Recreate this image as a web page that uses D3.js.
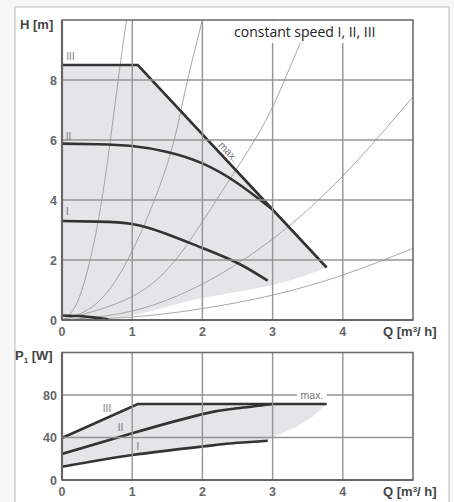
<!DOCTYPE html>
<html>

<head>
    <meta charset="UTF-8">
    <style>
        body {
            margin: 0;
            background: #f7f7f7;
        }

        svg {
            display: block;
        }

        .tick_label {
            font-family: "Liberation Sans", Arial, sans-serif;
            font-weight: bold;
            font-size: 12.5px;
            fill: #666;
        }

        .axis_title {
            font-family: "Liberation Sans", Arial, sans-serif;
            font-weight: bold;
            font-size: 13px;
            fill: #444;
        }

        .speed_label {
            font-family: "Liberation Sans", Arial, sans-serif;
            font-size: 10px;
            fill: #777;
        }
    </style>
</head>

<body>
    <svg></svg>

    <script src="https://d3js.org/d3.v7.min.js"></script>

    <script>
        let width = 454, height = 502;

        // ticks
        let qTicks = [0, 1, 2, 3, 4];
        let hTicks = [0, 2, 4, 6, 8];
        let pTicks = [0, 40, 80];

        // H-Q curves, speed I, II, III
        let h3Q = [0, 1.08, 3.77];
        let h3H = [8.5, 8.5, 1.75];
        let h2Q = [0, 0.5, 1, 1.5, 2, 2.5, 3.0];
        let h2H = [5.88, 5.86, 5.8, 5.6, 5.22, 4.56, 3.68];
        let h1Q = [0, 0.5, 1, 1.5, 2, 2.5, 2.93];
        let h1H = [3.3, 3.28, 3.2, 2.86, 2.4, 1.9, 1.31];
        let hMinQ = [0, 0.3, 0.66];
        let hMinH = [0.15, 0.12, 0.02];

        // lower edge of the shaded working field
        let fieldQ = [0.66, 1.25, 2, 3, 3.77];
        let fieldH = [0, 0.28, 0.73, 1.17, 1.75];

        // system curves (thin)
        let sys1Q = [0, 0.2, 0.4, 0.6, 0.8, 0.92];
        let sys1H = [0, 0.5, 2.0, 4.5, 8.0, 10];
        let sys2Q = [0, 0.5, 1, 1.5, 1.75, 2.0];
        let sys2H = [0, 0.57, 2.3, 5.2, 7.6, 10];
        let sys3Q = [0, 1, 1.65, 2.2, 2.82, 3.17, 3.5];
        let sys3H = [0, 0.78, 2.1, 4, 6.3, 8, 9.8];
        let sys4Q = [0, 1, 2, 3, 4, 5];
        let sys4H = [0, 0.3, 1.2, 2.7, 4.8, 7.44];
        let sys5Q = [0, 1, 2, 3, 4, 5];
        let sys5H = [0, 0.1, 0.38, 0.83, 1.5, 2.39];

        // P1-Q curves
        let p3Q = [0, 1.08, 3.77];
        let p3P = [39.5, 71.5, 71.5];
        let p2Q = [0, 1, 2, 2.5, 3];
        let p2P = [24.5, 44, 62, 67.5, 71.5];
        let p1Q = [0, 1, 2, 2.5, 2.93];
        let p1P = [12.5, 23.5, 31.5, 35, 37];
        let pFieldQ = [2.93, 3.0, 3.34, 3.57, 3.77];
        let pFieldP = [37, 40, 50, 59.6, 71.5];

        let zip = (a, b) => a.map((v, i) => [v, b[i]]);

        let svg = d3.select("svg")
            .attr("width", width)
            .attr("height", height);

        // outer frame
        svg.append("rect")
            .attr("x", 15).attr("y", 7)
            .attr("width", 434).attr("height", 500)
            .attr("fill", "white")
            .attr("stroke", "#cfcfcf")
            .attr("stroke-width", 1.5);

        let x = d3.scaleLinear().domain([0, 5]).range([62, 413]);
        let yH = d3.scaleLinear().domain([0, 10]).range([320, 20]);
        let yP = d3.scaleLinear().domain([0, 120]).range([480, 352.5]);

        let defs = svg.append("defs");
        defs.append("clipPath").attr("id", "clipTop")
            .append("rect").attr("x", 62).attr("y", 20).attr("width", 351).attr("height", 300);
        defs.append("clipPath").attr("id", "clipBot")
            .append("rect").attr("x", 62).attr("y", 352.5).attr("width", 351).attr("height", 127.5);

        function makePanel(y, ticks, clipId) {
            let g = svg.append("g");
            let plot = g.append("g").attr("clip-path", "url(#" + clipId + ")");
            return { g: g, plot: plot, y: y, ticks: ticks };
        }

        function drawGrid(p) {
            let y = p.y;
            p.g.selectAll(".vgrid")
                .data(qTicks.filter(d => d > 0))
                .enter().append("line")
                .attr("x1", d => x(d)).attr("x2", d => x(d))
                .attr("y1", y.range()[0]).attr("y2", y.range()[1])
                .attr("stroke", "#939393").attr("stroke-width", 1.4);
            p.g.selectAll(".hgrid")
                .data(p.ticks.filter(d => d > 0))
                .enter().append("line")
                .attr("x1", x(0)).attr("x2", x(5))
                .attr("y1", d => y(d)).attr("y2", d => y(d))
                .attr("stroke", "#939393").attr("stroke-width", 1.4);
        }

        function drawFrame(p) {
            let y = p.y;
            p.g.append("rect")
                .attr("x", x(0)).attr("y", y.range()[1])
                .attr("width", x(5) - x(0)).attr("height", y.range()[0] - y.range()[1])
                .attr("fill", "none").attr("stroke", "#6e6e6e").attr("stroke-width", 1.6);
            p.g.append("line")
                .attr("x1", x(0)).attr("x2", x(0))
                .attr("y1", y.range()[0]).attr("y2", y.range()[1])
                .attr("stroke", "#666").attr("stroke-width", 2.2);
            p.g.append("line")
                .attr("x1", x(0)).attr("x2", x(5))
                .attr("y1", y.range()[0]).attr("y2", y.range()[0])
                .attr("stroke", "#666").attr("stroke-width", 2.2);

            p.g.selectAll(".ylab")
                .data(p.ticks)
                .enter().append("text")
                .attr("class", "tick_label")
                .attr("x", 57).attr("y", d => y(d) + 4.5)
                .attr("text-anchor", "end")
                .text(d => d);
            p.g.selectAll(".xlab")
                .data(qTicks)
                .enter().append("text")
                .attr("class", "tick_label")
                .attr("x", d => x(d)).attr("y", y.range()[0] + 16)
                .attr("text-anchor", "middle")
                .text(d => d);

            let qt = p.g.append("text")
                .attr("class", "axis_title")
                .attr("x", 383).attr("y", y.range()[0] + 16);
            qt.append("tspan").text("Q [m");
            qt.append("tspan").attr("font-size", "8px").attr("dy", -4).text("3");
            qt.append("tspan").attr("dy", 4).text("/ h]");
        }

        // ---------- upper panel: H ----------
        let upper = makePanel(yH, hTicks, "clipTop");
        let lineH = d3.line().x(d => x(d[0])).y(d => yH(d[1])).curve(d3.curveNatural);

        let fieldPts = [[0, 0]].concat(zip(h3Q, h3H)).concat([[3.77, 0]]);
        upper.plot.append("path")
            .attr("d", d3.line().x(d => x(d[0])).y(d => yH(d[1]))(fieldPts) + "Z")
            .attr("fill", "#e4e5e7");
        // cut out the area below the lower edge
        upper.plot.append("path")
            .attr("d", lineH(zip(fieldQ, fieldH)) + "L" + x(3.9) + "," + yH(1.75) + "L" + x(3.9) + "," + yH(-1) + "L" + x(0.66) + "," + yH(-1) + "Z")
            .attr("fill", "white");

        drawGrid(upper);

        [[sys1Q, sys1H], [sys2Q, sys2H], [sys3Q, sys3H], [sys4Q, sys4H], [sys5Q, sys5H]].forEach(c => {
            upper.plot.append("path")
                .attr("d", lineH(zip(c[0], c[1])))
                .attr("fill", "none").attr("stroke", "#9d9d9d").attr("stroke-width", 0.9);
        });

        [[h1Q, h1H], [h2Q, h2H], [hMinQ, hMinH]].forEach(c => {
            upper.plot.append("path")
                .attr("d", lineH(zip(c[0], c[1])))
                .attr("fill", "none").attr("stroke", "#333").attr("stroke-width", 2.6);
        });
        upper.plot.append("path")
            .attr("d", d3.line().x(d => x(d[0])).y(d => yH(d[1]))(zip(h3Q, h3H)))
            .attr("fill", "none").attr("stroke", "#333").attr("stroke-width", 2.6);

        // constant speed caption with white box
        upper.g.append("rect")
            .attr("x", 231).attr("y", 21).attr("width", 152).attr("height", 22)
            .attr("fill", "white");
        upper.g.append("text")
            .attr("x", 234).attr("y", 37)
            .style("font-family", "'Open Sans', 'Noto Sans', sans-serif")
            .style("font-size", "14px")
            .attr("fill", "#222")
            .text("constant speed I, II, III");

        drawFrame(upper);

        upper.g.append("text").attr("class", "axis_title")
            .attr("x", 20).attr("y", 29).text("H [m]");

        let hLabels = [["III", 70.5, 60], ["II", 68.5, 140], ["I", 67.5, 215]];
        upper.g.selectAll(".slab").data(hLabels).enter().append("text")
            .attr("class", "speed_label")
            .attr("x", d => d[1]).attr("y", d => d[2])
            .attr("text-anchor", "middle")
            .text(d => d[0]);

        upper.g.append("text")
            .attr("class", "speed_label")
            .attr("transform", "translate(228,152) rotate(47)")
            .attr("text-anchor", "middle")
            .attr("dy", 3)
            .style("font-size", "10.5px")
            .attr("fill", "#555")
            .text("max.");

        // ---------- lower panel: P1 ----------
        let lower = makePanel(yP, pTicks, "clipBot");
        let lineP = d3.line().x(d => x(d[0])).y(d => yP(d[1])).curve(d3.curveNatural);

        let pPoly = zip(p3Q, p3P)
            .concat(zip(pFieldQ, pFieldP).reverse())
            .concat(zip(p1Q, p1P).reverse());
        lower.plot.append("path")
            .attr("d", d3.line().x(d => x(d[0])).y(d => yP(d[1]))(pPoly) + "Z")
            .attr("fill", "#e4e5e7");

        drawGrid(lower);

        // max. label on the gridline
        lower.g.append("rect")
            .attr("x", 297).attr("y", 389).attr("width", 30).attr("height", 11)
            .attr("fill", "white");
        lower.g.append("text")
            .attr("class", "speed_label")
            .attr("x", 312).attr("y", 399)
            .attr("text-anchor", "middle")
            .style("font-size", "10.5px")
            .attr("fill", "#777")
            .text("max.");

        [[p1Q, p1P], [p2Q, p2P]].forEach(c => {
            lower.plot.append("path")
                .attr("d", lineP(zip(c[0], c[1])))
                .attr("fill", "none").attr("stroke", "#333").attr("stroke-width", 2.6);
        });
        lower.plot.append("path")
            .attr("d", d3.line().x(d => x(d[0])).y(d => yP(d[1]))(zip(p3Q, p3P)))
            .attr("fill", "none").attr("stroke", "#333").attr("stroke-width", 2.6);

        drawFrame(lower);

        let pt = lower.g.append("text").attr("class", "axis_title")
            .attr("x", 15).attr("y", 360);
        pt.append("tspan").text("P");
        pt.append("tspan").attr("font-size", "8px").attr("dy", 3).text("1");
        pt.append("tspan").attr("dy", -3).text(" [W]");

        let pLabels = [["III", 107, 412], ["II", 120.5, 431], ["I", 138, 450]];
        lower.g.selectAll(".slab").data(pLabels).enter().append("text")
            .attr("class", "speed_label")
            .attr("x", d => d[1]).attr("y", d => d[2])
            .attr("text-anchor", "middle")
            .text(d => d[0]);
    </script>

</body>

</html>
